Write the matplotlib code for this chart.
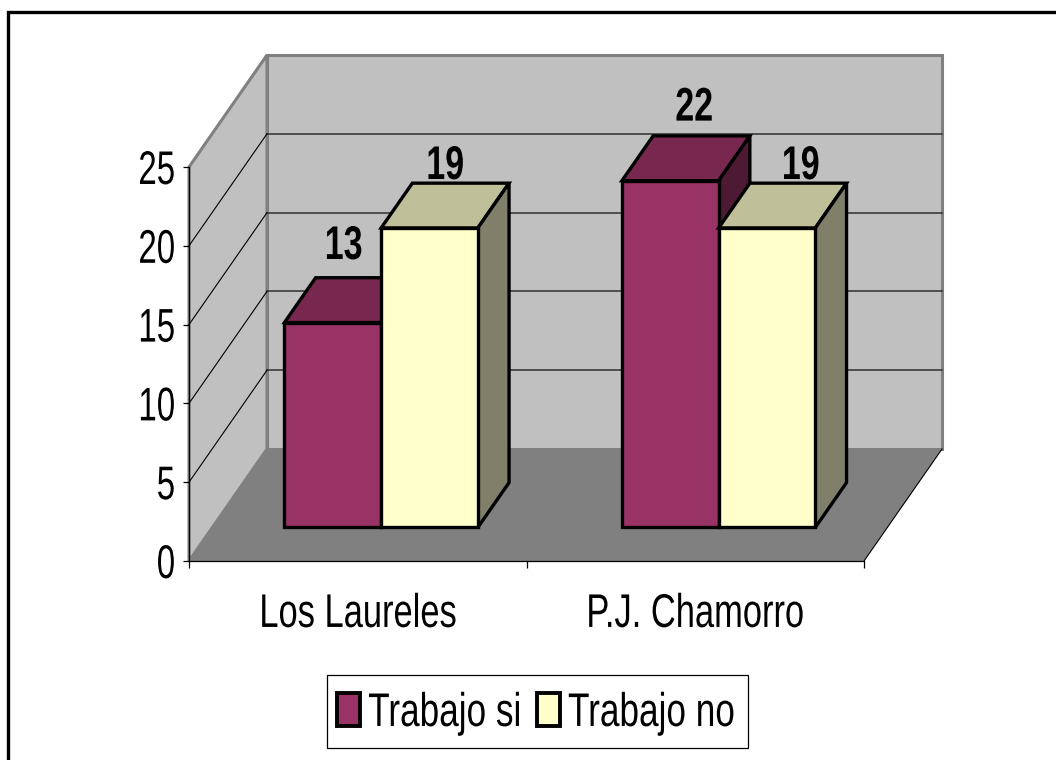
import matplotlib
matplotlib.use('Agg')
import matplotlib.pyplot as plt
from matplotlib.lines import Line2D
from matplotlib.patches import Patch, Polygon, Rectangle
from matplotlib.patheffects import AbstractPathEffect
from matplotlib.transforms import Affine2D

categories = ['Los Laureles', 'P.J. Chamorro']
series_names = ['Trabajo si', 'Trabajo no']
trabajo_si = [13, 22]
trabajo_no = [19, 19]
y_ticks = [0, 5, 10, 15, 20, 25]

W, H = 1056, 760
FONT = 'Liberation Sans'
FONT_SIZE = 34
NARROW = 0.72

# pseudo 3d: depth 0 is the front plane, depth 1 the back wall
DEPTH_X = 78 / 337.5
DEPTH_Y = 112 / 15.76
BAR_FRONT = 0.30
BAR_BACK = 0.70
BAR_WIDTH = 0.2865


# The reference uses a condensed face that is not installed, so squeeze the glyphs horizontally.
class Narrow(AbstractPathEffect):
    def __init__(self, sx=NARROW, anchor='left'):
        super().__init__()
        self.sx = sx
        self.anchor = anchor

    def draw_path(self, renderer, gc, tpath, affine, rgbFace=None):
        ext = tpath.get_extents()
        p = {'left': 0, 'center': (ext.x0 + ext.x1) / 2, 'right': ext.x1}[self.anchor]
        squeeze = Affine2D().translate(-p, 0).scale(self.sx, 1).translate(p, 0)
        renderer.draw_path(gc, tpath, squeeze + affine, rgbFace)


def project(x, y, depth):
    return (x + depth * DEPTH_X, y + depth * DEPTH_Y)


def face(ax, corners, color, edge='none', lw=0, z=1):
    pts = [project(*c) for c in corners]
    ax.add_patch(Polygon(pts, closed=True, facecolor=color, edgecolor=edge, linewidth=lw,
                         joinstyle='miter', clip_on=False, zorder=z))


# Draws one bar as top, side and front face.
def draw_bar(ax, x0, x1, v, colors, z):
    front, top, side = colors
    face(ax, [(x0, v, BAR_BACK), (x1, v, BAR_BACK), (x1, v, BAR_FRONT), (x0, v, BAR_FRONT)], top, 'black', 2.4, z)
    face(ax, [(x1, 0, BAR_FRONT), (x1, 0, BAR_BACK), (x1, v, BAR_BACK), (x1, v, BAR_FRONT)], side, 'black', 2.4, z)
    face(ax, [(x0, 0, BAR_FRONT), (x1, 0, BAR_FRONT), (x1, v, BAR_FRONT), (x0, v, BAR_FRONT)], front, 'black', 2.4, z)


fig = plt.figure(figsize=(W / 100, H / 100), dpi=100, facecolor='white')
ax = fig.add_axes([189 / W, 1 - 561 / H, 675 / W, 394 / H])
ax.set_xlim(0, 2)
ax.set_ylim(0, 25)
ax.patch.set_visible(False)
for s in ['top', 'right']:
    ax.spines[s].set_visible(False)
for s in ['left', 'bottom']:
    ax.spines[s].set_linewidth(0.9)
    ax.spines[s].set_zorder(20)

# walls and floor
face(ax, [(0, 0, 1), (2, 0, 1), (2, 25, 1), (0, 25, 1)], '#c0c0c0', '#808080', 2.2, 1)
face(ax, [(0, 0, 0), (0, 0, 1), (0, 25, 1), (0, 25, 0)], '#c0c0c0', '#808080', 2.2, 1)
face(ax, [(0, 0, 0), (2, 0, 0), (2, 0, 1), (0, 0, 1)], '#808080', z=2)

for v in y_ticks[1:-1]:
    ax.plot(*zip(project(0, v, 1), project(2, v, 1)), color='#303030', lw=1.1, clip_on=False, zorder=3)
    ax.plot(*zip(project(0, v, 0), project(0, v, 1)), color='black', lw=0.8, clip_on=False, zorder=3)
ax.plot(*zip(project(2, 0, 0), project(2, 0, 1)), color='black', lw=0.8, clip_on=False, zorder=3)

colors_si = ('#993366', '#78284f', '#4d1a33')
colors_no = ('#ffffcc', '#bfbf99', '#80806a')
label_shift = [(-3.5, 13.5), (0, 3), (6, 11), (13, 3)]

n = 0
for i in range(len(categories)):
    left = i + 0.5 - BAR_WIDTH
    for j, (vals, cols) in enumerate([(trabajo_si, colors_si), (trabajo_no, colors_no)]):
        x0 = left + j * BAR_WIDTH
        draw_bar(ax, x0, x0 + BAR_WIDTH, vals[i], cols, 5 + n)
        xy = project(x0 + BAR_WIDTH / 2, vals[i], (BAR_FRONT + BAR_BACK) / 2)
        ann = ax.annotate(str(vals[i]), xy=(xy[0], project(0, vals[i], BAR_BACK)[1]), xytext=label_shift[n],
                          textcoords='offset points', ha='center', va='baseline', family=FONT,
                          fontsize=FONT_SIZE, fontweight='bold', color='black', annotation_clip=False, zorder=15)
        ann.set_path_effects([Narrow(anchor='center')])
        n += 1

ax.set_yticks(y_ticks)
ax.set_xticks([0, 1, 2])
ax.set_xticklabels([])
ax.set_xticks([0.5, 1.5], minor=True)
ax.set_xticklabels(categories, minor=True, family=FONT, fontsize=FONT_SIZE)
ax.tick_params(axis='x', which='major', length=5, width=0.9)
ax.tick_params(axis='x', which='minor', length=0, pad=23)
ax.tick_params(axis='y', length=4.5, width=0.9, pad=5, labelsize=FONT_SIZE)
for t in ax.get_yticklabels():
    t.set_family(FONT)
    t.set_path_effects([Narrow(sx=0.70, anchor='right')])
for t in ax.get_xticklabels(minor=True):
    t.set_path_effects([Narrow(sx=0.73, anchor='center')])

handles = [Patch(facecolor=colors_si[0], edgecolor='black', linewidth=2.8),
           Patch(facecolor=colors_no[0], edgecolor='black', linewidth=2.8)]
leg = fig.legend(handles, series_names, loc='center left', bbox_to_anchor=(337 / W, 1 - 714 / H), ncol=2,
                 prop={'family': FONT, 'size': FONT_SIZE}, frameon=False,
                 handlelength=0.49, handleheight=0.7, handletextpad=0.17,
                 columnspacing=-0.78, borderpad=0, borderaxespad=0)
for t in leg.get_texts():
    t.set_path_effects([Narrow(sx=0.745, anchor='left')])
fig.add_artist(Rectangle((327 / W, 1 - 748 / H), 421 / W, 73 / H, transform=fig.transFigure,
                         facecolor='none', edgecolor='black', linewidth=0.9))

# outer frame, cut off on the right and at the bottom
fig.add_artist(Line2D([7.5 / W, 7.5 / W, 1], [0, 1 - 11.5 / H, 1 - 11.5 / H], color='black', lw=2.4,
                      solid_joinstyle='miter'))

fig.savefig('out.png', dpi=100)
plt.close()
